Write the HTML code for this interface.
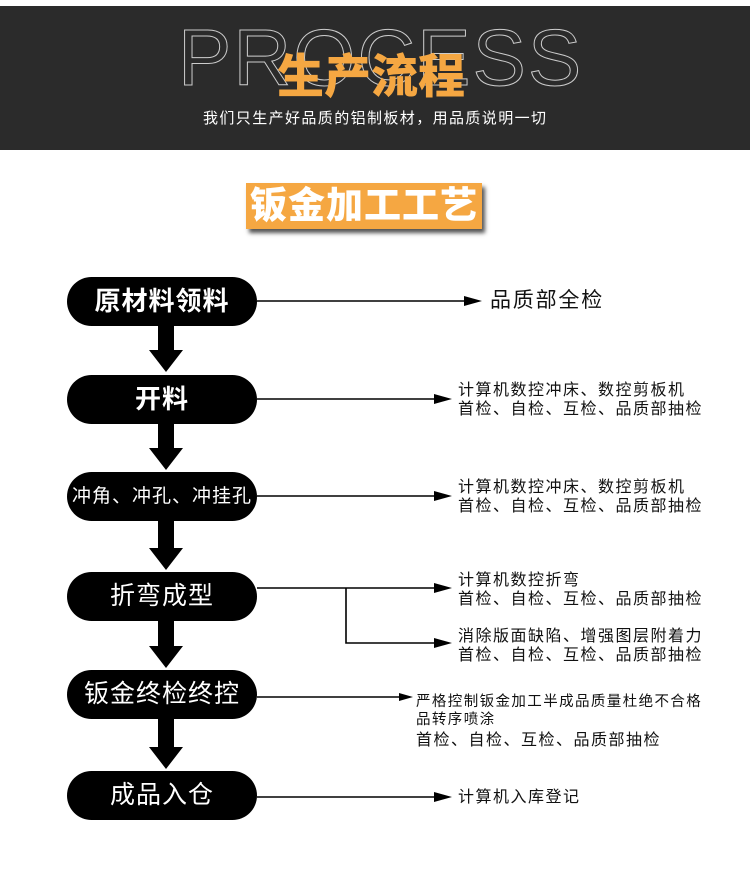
<!DOCTYPE html>
<html><head><meta charset="utf-8"><style>
body{margin:0;width:750px;height:876px;background:#fff;position:relative;overflow:hidden;font-family:"Liberation Sans","Noto Sans CJK SC",sans-serif}
.ban{position:absolute;left:0;top:6px;width:750px;height:144px;background:#2b2b2b}
.abs{position:absolute;white-space:nowrap}
.pill{position:absolute;left:67px;width:190px;height:49px;border-radius:25px;background:#000;color:#fff;text-align:center;line-height:49px;font-size:25px;letter-spacing:1px}
.t{position:absolute;white-space:nowrap;font-size:16px;letter-spacing:1.5px;line-height:19px;color:#111}
</style></head><body>
<div class="ban"></div>
<div class="abs" style="left:178px;top:16px;font-size:80px;line-height:84px;color:transparent;-webkit-text-stroke:1px #ccc;letter-spacing:2px;font-family:'Liberation Sans',sans-serif">PROCESS</div>
<div class="abs" style="left:277px;top:50px;font-size:47px;line-height:54px;color:#f5a742;font-weight:900">生产流程</div>
<div class="abs" style="left:203px;top:107px;font-size:15px;letter-spacing:1.4px;color:#fff">我们只生产好品质的铝制板材，用品质说明一切</div>
<div class="abs" style="left:246px;top:183px;width:236px;height:46px;background:#f5a742;box-shadow:3px 4px 4px #555;color:#fff;font-size:37px;line-height:46px;font-weight:900;text-align:center;letter-spacing:1px">钣金加工工艺</div>

<div class="pill" style="top:277px;font-weight:bold;font-size:26px">原材料领料</div>
<div class="pill" style="top:375px;font-weight:bold;font-size:26px">开料</div>
<div class="pill" style="top:472px;font-size:19px">冲角、冲孔、冲挂孔</div>
<div class="pill" style="top:572px">折弯成型</div>
<div class="pill" style="top:670px">钣金终检终控</div>
<div class="pill" style="top:771px">成品入仓</div>

<svg class="abs" style="left:0;top:0" width="750" height="876">
<g fill="#000">
<polygon points="158,326 174,326 174,350 183,350 166,372 149,350 158,350"/>
<polygon points="158,424 174,424 174,448 183,448 166,470 149,448 158,448"/>
<polygon points="158,521 174,521 174,548 183,548 166,570 149,548 158,548"/>
<polygon points="158,621 174,621 174,646 183,646 166,668 149,646 158,646"/>
<polygon points="158,719 174,719 174,747 183,747 166,769 149,747 158,747"/>
</g>
<g stroke="#000" stroke-width="1.6" fill="none">
<line x1="257" y1="301" x2="470" y2="301"/>
<line x1="257" y1="399" x2="440" y2="399"/>
<line x1="257" y1="496" x2="440" y2="496"/>
<polyline points="257,588 440,588"/>
<polyline points="346,588 346,643 440,643"/>
<line x1="257" y1="697" x2="402" y2="697"/>
<line x1="257" y1="797" x2="440" y2="797"/>
</g>
<g fill="#000">
<polygon points="482,301 464,296 464,306"/>
<polygon points="452,399 434,394 434,404"/>
<polygon points="452,496 434,491 434,501"/>
<polygon points="452,588 434,583 434,593"/>
<polygon points="452,643 434,638 434,648"/>
<polygon points="413,697 399,693 399,701"/>
<polygon points="452,797 434,792 434,802"/>
</g>
</svg>

<div class="t" style="left:490px;top:289px;font-size:21px;letter-spacing:1.8px;line-height:24px">品质部全检</div>
<div class="t" style="left:458px;top:381px">计算机数控冲床、数控剪板机<br>首检、自检、互检、品质部抽检</div>
<div class="t" style="left:458px;top:478px">计算机数控冲床、数控剪板机<br>首检、自检、互检、品质部抽检</div>
<div class="t" style="left:458px;top:571px">计算机数控折弯<br>首检、自检、互检、品质部抽检</div>
<div class="t" style="left:458px;top:627px">消除版面缺陷、增强图层附着力<br>首检、自检、互检、品质部抽检</div>
<div class="t" style="left:416px;top:693px;font-size:14.5px;letter-spacing:1.4px;line-height:18px">严格控制钣金加工半成品质量杜绝不合格<br>品转序喷涂</div>
<div class="t" style="left:416px;top:731px">首检、自检、互检、品质部抽检</div>
<div class="t" style="left:458px;top:788px">计算机入库登记</div>
</body></html>
